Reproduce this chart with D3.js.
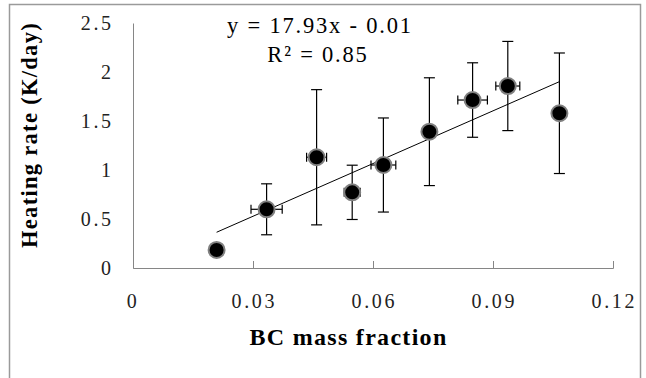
<!DOCTYPE html>
<html><head><meta charset="utf-8">
<script src="https://cdn.jsdelivr.net/npm/d3@7"></script>
<style>html,body{margin:0;padding:0;background:#fff;}svg{display:block;}</style>
</head><body>
<script>
const xValues = [0.0209, 0.0334, 0.0459, 0.0548, 0.0626, 0.0741, 0.0849, 0.0937, 0.1066];
const yValues = [0.184, 0.599, 1.13, 0.772, 1.051, 1.391, 1.714, 1.857, 1.579];
const yErrors = [0, 0.26, 0.69, 0.277, 0.48, 0.55, 0.38, 0.455, 0.615];
const xErrors = [0, 0.0039, 0.0025, 0.002, 0.0031, 0, 0.0037, 0.003, 0];
const xTicks = [0, 0.03, 0.06, 0.09, 0.12];
const yTicks = [0, 0.5, 1, 1.5, 2, 2.5];
const slope = 17.93, intercept = -0.01;
const eqText = "y = 17.93x - 0.01";
const r2Text = "R² = 0.85";
const xTitle = "BC mass fraction";
const yTitle = "Heating rate (K/day)";

const W = 646, H = 378;
const svg = d3.select("body").append("svg").attr("width", W).attr("height", H);
svg.append("rect").attr("x", 9.5).attr("y", 4.5).attr("width", 631).attr("height", 400)
  .attr("fill", "#fff").attr("stroke", "#9a9a9a").attr("stroke-width", 1.5);

const x = d3.scaleLinear().domain([0, 0.12]).range([133, 613]);
const y = d3.scaleLinear().domain([0, 2.5]).range([268, 23]);
const serif = "'Liberation Serif', 'Times New Roman', serif";
const axisColor = "#868686";

// x axis
const xa = svg.append("g").attr("transform", `translate(0,${y(0)})`)
  .call(d3.axisBottom(x).tickValues(xTicks).tickSize(-7).tickPadding(0).tickFormat(() => ""));
xa.select(".domain").attr("stroke", axisColor);
xa.selectAll(".tick line").attr("stroke", axisColor).filter(d => d === 0).remove();
// y axis
const ya = svg.append("g").attr("transform", `translate(${x(0)},0)`)
  .call(d3.axisLeft(y).tickValues(yTicks).tickSize(0).tickFormat(() => ""));
ya.select(".domain").attr("stroke", axisColor);

// tick labels
svg.selectAll(".xlab").data(xTicks).enter().append("text")
  .attr("x", d => x(d)).attr("y", 308).attr("text-anchor", "middle")
  .attr("font-family", serif).attr("font-size", 20).attr("letter-spacing", 2.6)
  .attr("fill", "#222").text(d => d === 0 ? "0" : d3.format(".2f")(d))
  .attr("dx", d => d === 0 ? 0 : 1.3);
svg.selectAll(".ylab").data(yTicks).enter().append("text")
  .attr("x", 111).attr("y", d => y(d) + 7).attr("text-anchor", "end")
  .attr("font-family", serif).attr("font-size", 20).attr("letter-spacing", 2.6)
  .attr("fill", "#222").text(d => d === 0 ? "0" : d3.format(".1~f")(d))
  .attr("dx", 2.6);

// trendline
const x0 = d3.min(xValues), x1 = d3.max(xValues);
svg.append("line").attr("x1", x(x0)).attr("y1", y(slope * x0 + intercept))
  .attr("x2", x(x1)).attr("y2", y(slope * x1 + intercept))
  .attr("stroke", "#000").attr("stroke-width", 1);

const pts = xValues.map((v, i) => ({x: v, y: yValues[i], ey: yErrors[i], ex: xErrors[i]}));
const eb = svg.append("g").attr("stroke", "#000").attr("stroke-width", 1.2);
pts.filter(d => d.ey > 0).forEach(d => {
  const cx = x(d.x);
  eb.append("line").attr("x1", cx).attr("x2", cx).attr("y1", y(d.y - d.ey)).attr("y2", y(d.y + d.ey));
  [d.y - d.ey, d.y + d.ey].forEach(v => eb.append("line").attr("x1", cx - 5.5).attr("x2", cx + 5.5).attr("y1", y(v)).attr("y2", y(v)));
});
pts.filter(d => d.ex > 0).forEach(d => {
  const cy = y(d.y);
  eb.append("line").attr("x1", x(d.x - d.ex)).attr("x2", x(d.x + d.ex)).attr("y1", cy).attr("y2", cy);
  [d.x - d.ex, d.x + d.ex].forEach(v => eb.append("line").attr("x1", x(v)).attr("x2", x(v)).attr("y1", cy - 4.5).attr("y2", cy + 4.5));
});

svg.selectAll(".pt").data(pts).enter().append("circle")
  .attr("cx", d => x(d.x)).attr("cy", d => y(d.y)).attr("r", 8)
  .attr("fill", "#000").attr("stroke", "#808080").attr("stroke-width", 2);

// equation
svg.append("text").attr("x", 320).attr("y", 33).attr("text-anchor", "middle")
  .attr("font-family", serif).attr("font-size", 22.5).attr("letter-spacing", 1.8).text(eqText);
svg.append("text").attr("x", 318).attr("y", 62).attr("text-anchor", "middle")
  .attr("font-family", serif).attr("font-size", 22.5).attr("letter-spacing", 1.8).text(r2Text);

// titles
svg.append("text").attr("x", 348.5).attr("y", 345).attr("text-anchor", "middle")
  .attr("font-family", serif).attr("font-weight", "bold").attr("font-size", 24).attr("letter-spacing", 1.3).text(xTitle);
svg.append("text").attr("transform", "translate(37,135) rotate(-90)").attr("text-anchor", "middle")
  .attr("font-family", serif).attr("font-weight", "bold").attr("font-size", 22.5).attr("letter-spacing", 1.3).text(yTitle);
</script>
</body></html>
